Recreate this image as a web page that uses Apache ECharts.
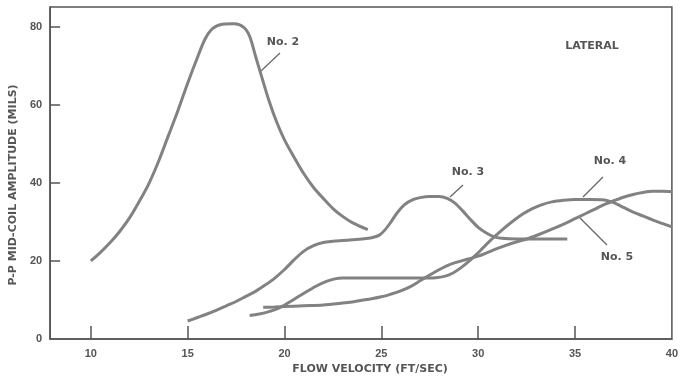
<!DOCTYPE html>
<html>
<head>
<meta charset="utf-8">
<script src="https://cdn.jsdelivr.net/npm/echarts@6/dist/echarts.min.js"></script>
<style>
  html, body { margin: 0; padding: 0; background: #fff; }
  #chart { width: 681px; height: 382px; }
</style>
</head>
<body>
<div id="chart"></div>
<script>
// readings taken off the plot: [flow velocity ft/sec, amplitude mils]
const no2 = [[10, 20], [10.5, 22.2], [11, 24.7], [11.5, 27.6], [12, 31], [12.5, 35.2], [13, 39.8], [13.5, 45.5],
  [14, 52], [14.5, 58.5], [15, 65.5], [15.5, 72], [15.9, 76.8], [16.3, 79.5], [16.8, 80.6], [17.4, 80.7], [17.9, 79.8],
  [18.2, 77.5], [18.5, 72.5], [18.8, 67.5], [19.2, 61], [19.6, 55.5], [20, 51], [20.5, 46.5], [21, 42.3], [21.5, 38.8],
  [22, 36], [22.5, 33.4], [23, 31.4], [23.5, 29.8], [24.3, 28]];
const no3 = [[15, 4.6], [15.5, 5.5], [16, 6.4], [16.5, 7.4], [17, 8.5], [17.5, 9.6], [18, 10.9], [18.5, 12.2], [19, 13.8],
  [19.5, 15.6], [20, 17.8], [20.5, 20.3], [21, 22.5], [21.5, 23.9], [22, 24.7], [22.5, 25.0], [23, 25.2], [23.5, 25.4],
  [24, 25.6], [24.5, 25.9], [24.9, 26.6], [25.2, 28.0], [25.5, 30.0], [25.8, 32.2], [26.2, 34.4], [26.6, 35.6], [27, 36.2],
  [27.5, 36.5], [28, 36.5], [28.4, 36.0], [28.8, 34.8], [29.2, 32.8], [29.6, 30.6], [30, 28.6], [30.4, 27.2], [30.8, 26.2],
  [31.2, 25.8], [32, 25.6], [33, 25.6], [34.6, 25.6]];
const no4 = [[18.2, 6.0], [18.7, 6.4], [19.2, 7.0], [19.7, 7.9], [20.2, 9.3], [20.7, 10.8], [21.2, 12.3], [21.7, 13.7],
  [22.2, 14.8], [22.6, 15.4], [23, 15.6], [24, 15.6], [25, 15.6], [26, 15.6], [27, 15.6], [27.8, 15.7], [28.3, 16.1],
  [28.7, 16.9], [29.1, 18.2], [29.5, 19.8], [29.9, 21.6], [30.3, 23.6], [30.8, 26.0], [31.3, 28.2], [31.8, 30.2],
  [32.3, 32.0], [32.8, 33.4], [33.3, 34.4], [33.8, 35.1], [34.4, 35.5], [35, 35.7], [35.8, 35.7], [36.5, 35.6],
  [37, 34.9], [37.5, 33.7], [38, 32.5], [38.5, 31.5], [39, 30.5], [39.5, 29.6], [40, 28.7]];
const no5 = [[18.9, 8.1], [19.5, 8.2], [20, 8.3], [21, 8.5], [22, 8.7], [23, 9.2], [23.5, 9.5], [24, 9.9], [24.5, 10.3],
  [25, 10.8], [25.5, 11.5], [26, 12.3], [26.5, 13.4], [27, 14.9], [27.5, 16.4], [28, 17.8], [28.5, 19.0], [29, 19.8],
  [29.5, 20.5], [30, 21.2], [30.5, 22.2], [31, 23.2], [31.5, 24.1], [32, 24.9], [32.5, 25.6], [33, 26.5], [33.5, 27.5],
  [34, 28.5], [34.5, 29.6], [35, 30.8], [35.5, 32.0], [36, 33.2], [36.5, 34.4], [37, 35.4], [37.5, 36.3], [38, 37.0],
  [38.5, 37.5], [39, 37.8], [39.5, 37.8], [40, 37.7]];
const xTicks = [10, 15, 20, 25, 30, 35];
const xLabels = [10, 15, 20, 25, 30, 35, 40];
const yTicks = [20, 40, 60, 80];
const yLabels = [0, 20, 40, 60, 80];

const ink = '#555';
const curve = '#828282';
const font = 'DejaVu Sans';

function line(name, data) {
  return {
    name: name,
    type: 'line',
    data: data,
    smooth: 0.3,
    showSymbol: false,
    lineStyle: { color: curve, width: 3 },
    silent: true
  };
}

function note(text, x, y) {
  return {
    type: 'text',
    x: x, y: y,
    style: { text: text, fill: ink, font: 'bold 11px "' + font + '"', align: 'center', verticalAlign: 'middle' }
  };
}

function leader(x1, y1, x2, y2) {
  return { type: 'line', shape: { x1: x1, y1: y1, x2: x2, y2: y2 }, style: { stroke: '#666', lineWidth: 1.2 } };
}

const chart = echarts.init(document.getElementById('chart'));
chart.setOption({
  animation: false,
  grid: { left: 47, right: 7.5, top: 7, bottom: 43, show: true, borderColor: '#555', borderWidth: 1.5 },
  xAxis: {
    type: 'value',
    min: 7.9,
    max: 40,
    name: 'FLOW VELOCITY (FT/SEC)',
    nameLocation: 'middle',
    nameGap: 23,
    nameTextStyle: { color: ink, fontFamily: font, fontWeight: 'bold', fontSize: 11, padding: [0, 0, 0, 18] },
    splitLine: { show: false },
    axisLine: { lineStyle: { color: '#555', width: 1.5 } },
    axisTick: { inside: true, length: 13, customValues: xTicks, lineStyle: { color: '#555', width: 1.5 } },
    axisLabel: { customValues: xLabels, color: ink, fontFamily: 'Liberation Sans', fontWeight: 'bold', fontSize: 11, margin: 9 }
  },
  yAxis: {
    type: 'value',
    min: 0,
    max: 85,
    name: 'P-P MID-COIL AMPLITUDE (MILS)',
    nameLocation: 'middle',
    nameGap: 25,
    nameTextStyle: { color: ink, fontFamily: font, fontWeight: 'bold', fontSize: 11, padding: [0, 24, 0, 0] },
    splitLine: { show: false },
    axisLine: { show: true, lineStyle: { color: '#555', width: 1.5 } },
    axisTick: { show: true, inside: true, length: 10, customValues: yTicks, lineStyle: { color: '#555', width: 1.5 } },
    axisLabel: { customValues: yLabels, color: ink, fontFamily: 'Liberation Sans', fontWeight: 'bold', fontSize: 11, margin: 8 }
  },
  series: [line('No. 2', no2), line('No. 3', no3), line('No. 4', no4), line('No. 5', no5)],
  graphic: [
    note('LATERAL', 592, 46),
    note('No. 2', 283, 42), leader(280, 53, 261, 71),
    note('No. 3', 468, 172), leader(463, 185, 450, 197),
    note('No. 4', 610, 161), leader(603, 177, 583, 197),
    note('No. 5', 617, 257), leader(580, 218, 607, 245)
  ]
});
</script>
</body>
</html>
